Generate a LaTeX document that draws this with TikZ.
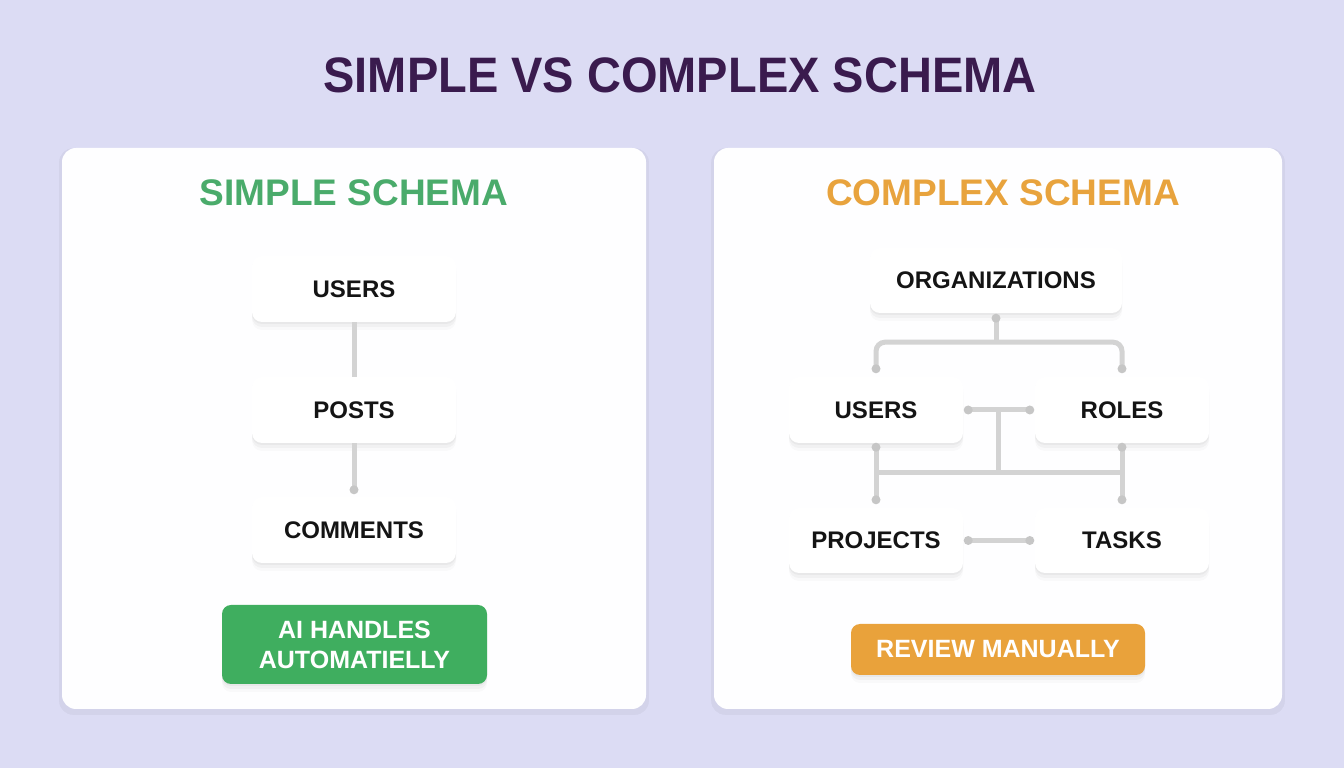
\documentclass[tikz,border=0pt]{standalone}
\usepackage{fontspec}
\setmainfont{Liberation Sans}
\usetikzlibrary{shadows}

\definecolor{bgc}{HTML}{DCDCF4}
\definecolor{titlec}{HTML}{3A1B4E}
\definecolor{greenh}{HTML}{4AAB6B}
\definecolor{greenb}{HTML}{3FAE5F}
\definecolor{orangeh}{HTML}{E8A33D}
\definecolor{orangeb}{HTML}{E9A23B}
\definecolor{linkc}{HTML}{D3D3D3}
\definecolor{dotc}{HTML}{C6C6C6}

\begin{document}
\begin{tikzpicture}
 [x=1pt, y=1pt,
  soft shadow/.style={
    drop shadow={shadow xshift=0pt, shadow yshift=-2pt, opacity=0.035, fill=black},
    drop shadow={shadow xshift=0pt, shadow yshift=-5pt, opacity=0.03, fill=black},
    drop shadow={shadow xshift=0pt, shadow yshift=-8pt, opacity=0.02, fill=black}},
  panel/.style={rounded corners=14pt, fill=white!98!bgc,
    drop shadow={shadow xshift=0pt, shadow yshift=-3pt, shadow scale=1.01, opacity=0.04, fill=black}},
  table node/.style={rounded corners=10pt, fill=white, minimum height=66pt,
    font=\fontsize{24}{28}\selectfont\bfseries, text=black!92, soft shadow},
  action node/.style={rounded corners=9pt, text=white, align=center,
    font=\fontsize{25}{30}\selectfont\bfseries, soft shadow},
  link/.style={line width=5pt, draw=linkc},
  dot/.style={circle, fill=dotc, inner sep=0pt, minimum size=9pt}]

\useasboundingbox[fill=bgc] (0,0) rectangle (1344,768);

\node[font=\fontsize{47}{52}\selectfont\bfseries, text=titlec, yscale=1.06] (title) at (680,693) {SIMPLE VS COMPLEX SCHEMA};

% panels
\path[panel] (62,59) rectangle (646,620);
\path[panel] (714,59) rectangle (1282,620);

\node[font=\fontsize{37}{40}\selectfont\bfseries, text=greenh] (h1) at (354,575) {SIMPLE SCHEMA};
\node[font=\fontsize{37}{40}\selectfont\bfseries, text=orangeh] (h2) at (1003,575) {COMPLEX SCHEMA};

% simple schema
\node[table node, minimum width=204pt] (su) at (354,479) {USERS};
\node[table node, minimum width=204pt] (sp) at (354,358) {POSTS};
\node[table node, minimum width=204pt] (sc) at (354,238) {COMMENTS};

\node[action node, fill=greenb, minimum width=265pt, minimum height=79pt] (ai) at (354.5,123.5) {AI HANDLES\\AUTOMATIELLY};

\draw[link] (su.south) -- (sp.north);
\draw[link] (sp.south) -- ([yshift=7pt]sc.north) node[dot] {};

% complex schema
\node[table node, minimum width=252pt, minimum height=65pt] (org) at (996,487.5) {ORGANIZATIONS};
\node[table node, minimum width=174pt] (cu) at (876,358) {USERS};
\node[table node, minimum width=174pt] (ro) at (1122,358) {ROLES};
\node[table node, minimum width=174pt, minimum height=65pt] (pr) at (876,227.5) {PROJECTS};
\node[table node, minimum width=174pt, minimum height=65pt] (ta) at (1122,227.5) {TASKS};

\node[action node, fill=orangeb, minimum width=294pt, minimum height=51pt] (rv) at (998,118.5) {REVIEW MANUALLY};

\coordinate (top) at ([yshift=-29pt]org.south);
\draw[link, rounded corners=9pt] ([yshift=8pt]cu.north) |- (top) -| ([yshift=8pt]ro.north);
\draw[link] ([yshift=-5pt]org.south) -- (top);
\node[dot] at ([yshift=-5pt]org.south) {};
\node[dot] at ([yshift=8pt]cu.north) {};
\node[dot] at ([yshift=8pt]ro.north) {};

\draw[link] ([xshift=5pt]cu.east) -- ([xshift=-5pt]ro.west);
\node[dot] at ([xshift=5pt]cu.east) {};
\node[dot] at ([xshift=-5pt]ro.west) {};

\coordinate (bus) at (998,295);
\draw[link] (cu.east -| bus) -- (bus);
\draw[link] ([yshift=-4pt]cu.south) -- ([yshift=8pt]pr.north);
\draw[link] ([yshift=-4pt]ro.south) -- ([yshift=8pt]ta.north);
\draw[link] (bus -| cu) -- (bus -| ro);
\node[dot] at ([yshift=-4pt]cu.south) {};
\node[dot] at ([yshift=8pt]pr.north) {};
\node[dot] at ([yshift=-4pt]ro.south) {};
\node[dot] at ([yshift=8pt]ta.north) {};

\draw[link] ([xshift=5pt]pr.east) -- ([xshift=-5pt]ta.west);
\node[dot] at ([xshift=5pt]pr.east) {};
\node[dot] at ([xshift=-5pt]ta.west) {};

\end{tikzpicture}
\end{document}
